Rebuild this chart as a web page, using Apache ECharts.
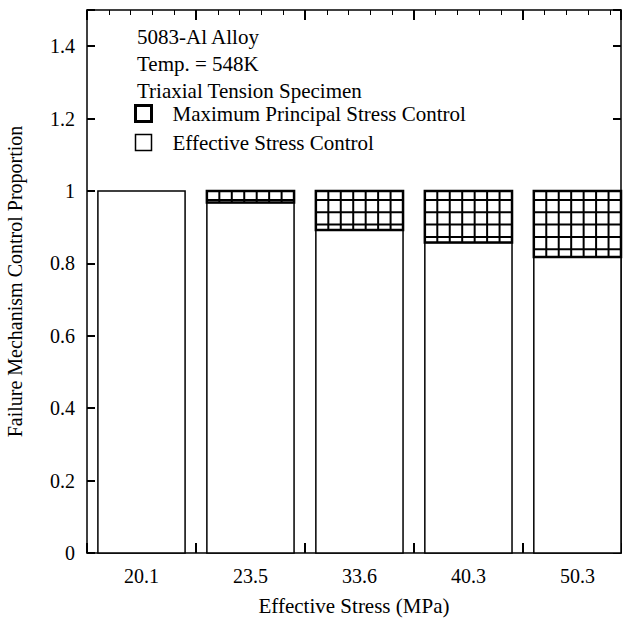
<!DOCTYPE html>
<html>
<head>
<meta charset="utf-8">
<script src="https://cdn.jsdelivr.net/npm/echarts@6/dist/echarts.min.js"></script>
<style>html,body{margin:0;padding:0;background:#fff}#c{width:626px;height:619px}</style>
</head>
<body>
<div id="c"></div>
<script>
const categories = ['20.1', '23.5', '33.6', '40.3', '50.3'];
const effectiveControl = [1.0, 0.968, 0.892, 0.858, 0.818];
const principalControl = [0.0, 0.032, 0.108, 0.142, 0.182];
const annotations = ['5083-Al Alloy', 'Temp. = 548K', 'Triaxial Tension Specimen'];
const yTicks = [0, 0.2, 0.4, 0.6, 0.8, 1, 1.2, 1.4];

const FONT = "'Liberation Serif','Times New Roman',serif";
const chart = echarts.init(document.getElementById('c'), null, {renderer: 'svg'});

const effData = categories.map((c, i) => [i + 0.5, 0, effectiveControl[i]]);
const prinData = categories.map((c, i) => [i + 0.5, effectiveControl[i], effectiveControl[i] + principalControl[i]]);

function plainBar(params, api) {
  const xc = api.value(0), y0 = api.value(1), y1 = api.value(2);
  const a = api.coord([xc - 0.4, y1]);
  const b = api.coord([xc + 0.4, y0]);
  return {
    type: 'rect',
    shape: {x: a[0], y: a[1], width: b[0] - a[0], height: b[1] - a[1]},
    style: {fill: '#fff', stroke: '#000', lineWidth: 1.5}
  };
}

function hatchBar(params, api) {
  const xc = api.value(0), y0 = api.value(1), y1 = api.value(2);
  if (y1 - y0 <= 0) return null;
  const a = api.coord([xc - 0.4, y1]);
  const b = api.coord([xc + 0.4, y0]);
  const x0 = a[0], x1 = b[0], top = a[1], bot = b[1];
  const w = x1 - x0;
  const children = [{
    type: 'rect',
    shape: {x: x0, y: top, width: w, height: bot - top},
    style: {fill: '#fff', stroke: '#000', lineWidth: 2.5}
  }];
  for (let k = 1; k < 7; k++) {
    const x = x0 + k * w / 7;
    children.push({type: 'line', shape: {x1: x, y1: top, x2: x, y2: bot}, style: {stroke: '#000', lineWidth: 2}});
  }
  for (let y = top + 9; y < bot - 1; y += 12.3) {
    children.push({type: 'line', shape: {x1: x0, y1: y, x2: x1, y2: y}, style: {stroke: '#000', lineWidth: 2}});
  }
  return {type: 'group', children};
}

const tickFmt = v => (yTicks.some(t => Math.abs(t - v) < 1e-6) ? String(Math.round(v * 10) / 10) : '');
const tick = len => ({show: true, inside: true, length: len, lineStyle: {color: '#000', width: 2}});
const minor = () => ({show: true, splitNumber: 5, length: 5});
const ln = () => ({show: true, onZero: false, lineStyle: {color: '#000', width: 1.5}});

const option = {
  animation: false,
  grid: [
    {left: 87, right: 5, top: 10, bottom: 66, containLabel: false, outerBoundsMode: 'none'},
    {left: 87, width: 545, top: 10, bottom: 66, containLabel: false, outerBoundsMode: 'none'}
  ],
  xAxis: [
    {
      type: 'value', gridIndex: 0, min: 0, max: 4.9, interval: 1,
      name: 'Effective Stress (MPa)', nameLocation: 'middle', nameGap: 42,
      nameTextStyle: {fontFamily: FONT, fontSize: 21, color: '#000'},
      axisLine: ln(), axisTick: tick(10), minorTick: minor(),
      axisLabel: {show: false}, splitLine: {show: false}
    },
    {
      type: 'value', gridIndex: 0, position: 'top', min: 0, max: 4.9, interval: 1,
      axisLine: ln(), axisTick: tick(10), minorTick: minor(),
      axisLabel: {show: false}, splitLine: {show: false}
    },
    {
      type: 'category', gridIndex: 1, data: categories,
      axisLine: {show: false}, axisTick: {show: false},
      axisLabel: {fontFamily: FONT, fontSize: 20, color: '#000', margin: 13},
      splitLine: {show: false}
    }
  ],
  yAxis: [
    {
      type: 'value', gridIndex: 0, min: 0, max: 1.5, interval: 0.2,
      name: 'Failure Mechanism Control Proportion', nameLocation: 'middle', nameGap: 62,
      nameTextStyle: {fontFamily: FONT, fontSize: 20, color: '#000'},
      axisLine: ln(), axisTick: tick(8),
      axisLabel: {fontFamily: FONT, fontSize: 20, color: '#000', margin: 12, formatter: tickFmt},
      splitLine: {show: false}
    },
    {
      type: 'value', gridIndex: 0, position: 'right', min: 0, max: 1.5, interval: 0.2,
      axisLine: ln(), axisTick: tick(8),
      axisLabel: {show: false}, splitLine: {show: false}
    },
    {
      type: 'value', gridIndex: 1, show: false
    }
  ],
  legend: {
    orient: 'vertical', left: 134, top: 103, itemGap: 8, itemWidth: 16, itemHeight: 16,
    padding: 0,
    selectedMode: false,
    textStyle: {fontFamily: FONT, fontSize: 21, color: '#000', padding: [0, 0, 0, 16]},
    data: [
      {name: 'Maximum Principal Stress Control', icon: 'rect', itemStyle: {color: '#fff', borderColor: '#000', borderWidth: 3}},
      {name: 'Effective Stress Control', icon: 'rect', itemStyle: {color: '#fff', borderColor: '#000', borderWidth: 1.5}}
    ]
  },
  graphic: annotations.map((t, i) => ({
    type: 'text', left: 137, top: 26 + i * 27, z: 10,
    style: {text: t, fontFamily: FONT, fontSize: 21, fill: '#000'}
  })),
  series: [
    {
      name: 'Effective Stress Control', type: 'custom', xAxisIndex: 0, yAxisIndex: 0,
      renderItem: plainBar, data: effData,
      encode: {x: 0, y: [1, 2]}
    },
    {
      name: 'Maximum Principal Stress Control', type: 'custom', xAxisIndex: 0, yAxisIndex: 0,
      renderItem: hatchBar, data: prinData,
      encode: {x: 0, y: [1, 2]}
    }
  ]
};
chart.setOption(option);
</script>
</body>
</html>
